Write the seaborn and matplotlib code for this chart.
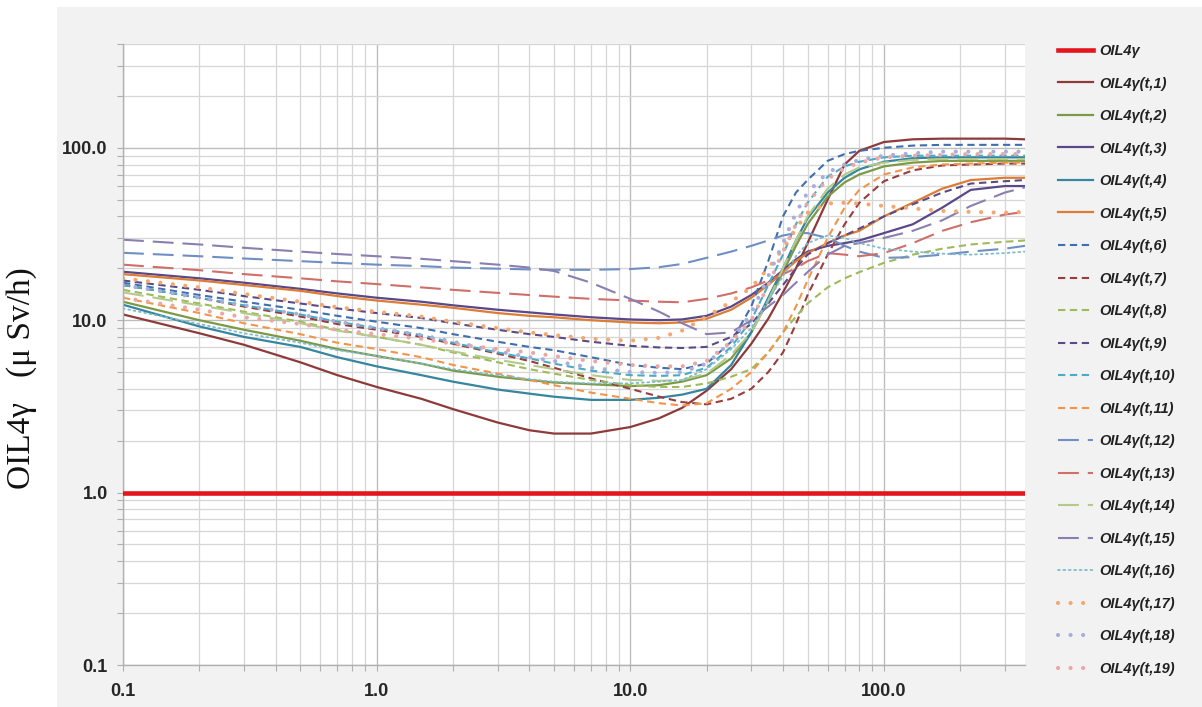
import numpy as np
import pandas as pd
import matplotlib
matplotlib.use("Agg")
import matplotlib.pyplot as plt
from matplotlib.patches import Rectangle
from matplotlib.ticker import LogLocator, NullFormatter
import seaborn as sns

# ---------------- data ----------------
x_hours = [0.1, 0.2, 0.3, 0.5, 0.7, 1, 1.5, 2, 3, 4, 5, 7, 10, 13, 16, 20, 25, 30, 35, 40,
           45, 50, 60, 70, 80, 100, 130, 170, 220, 300, 360]

oil4_x = [0.1, 360]
oil4_y = [1.0, 1.0]

t1 = [10.8, 8.4, 7.2, 5.7, 4.8, 4.1, 3.5, 3.05, 2.55, 2.3, 2.2, 2.2, 2.4, 2.7, 3.1, 3.9, 5.2, 7.3, 10.2, 14.5,
      20, 28, 50, 80, 96, 108, 112, 113, 113, 113, 112]
t2 = [12.8, 10.0, 8.8, 7.6, 6.8, 6.2, 5.6, 5.1, 4.7, 4.5, 4.35, 4.25, 4.15, 4.2, 4.4, 4.8, 6.0, 8.5, 13, 19,
      27, 36, 52, 63, 70, 78, 82, 84, 84, 84, 84]
t3 = [19.1, 17.5, 16.5, 15.2, 14.3, 13.5, 12.8, 12.2, 11.5, 11.1, 10.8, 10.4, 10.1, 10.0, 10.1, 10.6, 12.0, 14.0, 16.5, 19.5,
      22.5, 25, 27, 28, 29, 32, 36, 45, 57, 60, 60]
t4 = [12.3, 9.2, 8.0, 7.0, 6.1, 5.4, 4.8, 4.4, 3.96, 3.75, 3.6, 3.45, 3.45, 3.55, 3.7, 4.0, 5.5, 8.5, 13.5, 20,
      29, 39, 55, 67, 75, 83, 87, 88, 88, 88, 88]
t5 = [18.5, 17.0, 16.0, 14.8, 13.8, 13.0, 12.3, 11.8, 11.0, 10.6, 10.4, 10.0, 9.7, 9.6, 9.7, 10.2, 11.5, 13.5, 16, 19,
      22, 24.5, 28, 31, 33, 40, 48, 58, 65, 67, 67]
t6 = [16.5, 14.0, 12.8, 11.5, 10.6, 9.8, 9.0, 8.3, 7.5, 7.0, 6.7, 6.1, 5.5, 5.3, 5.2, 5.6, 7.5, 12, 22, 40,
      55, 65, 84, 92, 96, 100, 103, 104, 104, 104, 104]
t7 = [16.0, 13.5, 12.0, 10.5, 9.5, 8.8, 8.0, 7.3, 6.4, 5.8, 5.3, 4.6, 4.0, 3.6, 3.35, 3.25, 3.5, 4.0, 5.0, 6.5,
      9.5, 14, 24, 36, 48, 64, 74, 79, 80, 81, 81]
t8 = [15.0, 12.5, 11.2, 9.8, 8.8, 8.0, 7.2, 6.5, 5.7, 5.2, 4.9, 4.5, 4.2, 4.1, 4.1, 4.3, 4.7, 5.2, 6.5, 8.5,
      10.5, 12.5, 15.5, 17.5, 19, 21.5, 24, 26, 27.5, 28.5, 29]
t9 = [17.0, 15.0, 13.8, 12.5, 11.7, 11.0, 10.3, 9.6, 8.8, 8.3, 8.0, 7.5, 7.1, 6.95, 6.9, 7.0, 8.0, 9.5, 12.5, 16,
      20, 24, 28, 31, 34, 40, 47, 55, 62, 64, 65]
t10 = [16.0, 13.5, 12.2, 10.8, 9.8, 9.0, 8.2, 7.4, 6.5, 6.0, 5.6, 5.1, 4.8, 4.75, 4.8, 5.3, 7.0, 10, 16, 24,
       36, 48, 68, 78, 83, 88, 90, 90, 90, 90, 90]
t11 = [13.5, 11.0, 9.6, 8.3, 7.4, 6.8, 6.1, 5.5, 4.9, 4.5, 4.2, 3.8, 3.5, 3.3, 3.2, 3.3, 4.0, 5.0, 6.5, 8.5,
       12, 17, 30, 45, 57, 70, 77, 80, 81, 82, 82]
t12 = [24.6, 23.5, 22.8, 22.0, 21.5, 21.0, 20.6, 20.2, 19.9, 19.7, 19.6, 19.6, 19.8, 20.3, 21.2, 23, 25, 27, 29, 31,
       32, 32, 30, 27, 25, 23, 23.2, 24, 25, 26, 27]
t13 = [21.0, 19.5, 18.5, 17.5, 16.8, 16.2, 15.5, 15.0, 14.4, 14.0, 13.7, 13.3, 13.0, 12.8, 12.7, 13.3, 14.3, 15.5, 17, 18.5,
       20, 22, 24.5, 24, 23.5, 24.5, 28, 33, 37, 41, 42.5]
t14 = [14.5, 12.2, 11.0, 9.6, 8.7, 8.0, 7.2, 6.6, 5.9, 5.5, 5.2, 4.8, 4.5, 4.45, 4.5, 4.9, 6.3, 8.5, 13, 20,
       29, 40, 58, 70, 77, 82, 85, 86, 86, 86, 86]
t15 = [29.3, 27.5, 26.3, 25.0, 24.2, 23.5, 22.7, 22.0, 21.0, 20.2, 19.3, 16.5, 13.3, 11.2, 9.6, 8.3, 8.5, 10, 12, 14,
       16.5, 19, 24, 27, 28, 30, 33, 38, 46, 55, 59]
t16 = [11.7, 9.5, 8.4, 7.4, 6.7, 6.2, 5.6, 5.2, 4.8, 4.55, 4.4, 4.3, 4.3, 4.4, 4.5, 5.2, 6.8, 9, 13, 18,
       23.5, 28, 31, 30, 28, 26, 25, 24.3, 24, 24.5, 25]
t17 = [17.5, 15.5, 14.2, 12.8, 11.9, 11.2, 10.5, 9.8, 9.0, 8.5, 8.2, 7.8, 7.6, 7.9, 8.7, 10.5, 12.8, 15.5, 20, 26,
       34, 42, 47.5, 48, 47.5, 46, 44.5, 43, 42.5, 42, 42.5]
t18 = [16.0, 13.5, 12.2, 10.8, 9.8, 9.0, 8.2, 7.5, 6.6, 6.1, 5.8, 5.3, 5.0, 4.95, 5.0, 5.6, 7.5, 11, 18, 28,
       42, 55, 72, 80, 85, 90, 93, 95, 95, 95, 95]
t19 = [13.5, 11.5, 10.4, 9.5, 8.8, 8.3, 7.8, 7.3, 6.8, 6.5, 6.2, 5.8, 5.5, 5.4, 5.4, 5.8, 7.5, 10, 16, 25,
       36, 48, 66, 76, 82, 88, 90, 91, 92, 92, 92]

series_values = [t1, t2, t3, t4, t5, t6, t7, t8, t9, t10, t11, t12, t13, t14, t15, t16, t17, t18, t19]
series_labels = ["OIL4γ(t,%d)" % (i + 1) for i in range(19)]

x_tick_values = [0.1, 1, 10, 100]
x_tick_labels = ["0.1", "1.0", "10.0", "100.0"]
y_tick_values = [0.1, 1, 10, 100]
y_tick_labels = ["0.1", "1.0", "10.0", "100.0"]

# ---------------- styles ----------------
SOLID = "-"
SHORT = (0, (3.5, 2.2))
LONG = (0, (10, 4.3))
FINE = (0, (1, 2))
DOTS = (0, (0.01, 3))

styles = [
    ("#8E3A3A", SOLID, 1.6),
    ("#7C9A45", SOLID, 1.6),
    ("#5A4888", SOLID, 1.6),
    ("#35869E", SOLID, 1.6),
    ("#DD7C35", SOLID, 1.6),
    ("#3F6FAE", SHORT, 1.5),
    ("#9B3C3C", SHORT, 1.5),
    ("#9DBB5A", SHORT, 1.5),
    ("#5C4A86", SHORT, 1.5),
    ("#4BAAC4", SHORT, 1.5),
    ("#F2954A", SHORT, 1.5),
    ("#6F8FC4", LONG, 1.5),
    ("#D06E6A", LONG, 1.5),
    ("#B5C98A", LONG, 1.5),
    ("#8A7FB0", LONG, 1.5),
    ("#7DBBD0", FINE, 1.3),
    ("#F4A771", DOTS, 3.0),
    ("#A8AEDC", DOTS, 3.0),
    ("#EBA7A3", DOTS, 3.0),
]

W, H = 1202, 707
fig = plt.figure(figsize=(W / 100, H / 100), dpi=100, facecolor="white")
fig.patches.append(Rectangle((57 / W, 0), 1 - 57 / W, 1 - 7 / H, transform=fig.transFigure,
                             facecolor="#f2f2f2", edgecolor="none", zorder=-10))

ax = fig.add_axes([123 / W, 1 - 665 / H, (1025 - 123) / W, (665 - 44) / H])
ax.set_facecolor("white")
ax.set_xscale("log")
ax.set_yscale("log")

df_red = pd.DataFrame({"x": oil4_x, "y": oil4_y})
sns.lineplot(data=df_red, x="x", y="y", ax=ax, color="#E3161E", linewidth=3.3,
             label="OIL4γ", estimator=None, zorder=5)

for vals, lab, (col, ls, lw) in zip(series_values, series_labels, styles):
    d = pd.DataFrame({"x": x_hours, "y": vals})
    kw = dict(color=col, linewidth=lw, linestyle=ls, label=lab, estimator=None)
    if ls is DOTS or ls is FINE:
        kw["dash_capstyle"] = "round"
    sns.lineplot(data=d, x="x", y="y", ax=ax, **kw)

ax.set_xlim(0.1, 360)
ax.set_ylim(0.1, 400)

ax.set_xticks(x_tick_values)
ax.set_xticklabels(x_tick_labels)
ax.set_yticks(y_tick_values)
ax.set_yticklabels(y_tick_labels)
ax.xaxis.set_minor_locator(LogLocator(base=10, subs=np.arange(2, 10), numticks=20))
ax.yaxis.set_minor_locator(LogLocator(base=10, subs=np.arange(2, 10), numticks=20))
ax.xaxis.set_minor_formatter(NullFormatter())
ax.yaxis.set_minor_formatter(NullFormatter())

ax.grid(True, which="major", color="#bdbdbd", linewidth=1.0)
ax.grid(True, which="minor", color="#d6d6d6", linewidth=0.9)
ax.set_axisbelow(True)

ax.tick_params(which="both", length=4, width=0.8, color="#b0b0b0")
ax.tick_params(axis="y", which="major", pad=7, labelsize=13, labelcolor="#262626")
ax.tick_params(axis="x", which="major", pad=9, labelsize=13, labelcolor="#262626")
for lbl in ax.get_xticklabels() + ax.get_yticklabels():
    lbl.set_fontfamily("Liberation Sans")
    lbl.set_fontweight("bold")

for side in ["top", "right"]:
    ax.spines[side].set_visible(False)
for side in ["left", "bottom"]:
    ax.spines[side].set_color("#b0b0b0")
    ax.spines[side].set_linewidth(1.0)

ax.set_xlabel("")
ax.set_ylabel("")
if ax.get_legend() is not None:
    ax.get_legend().remove()

handles, labels = ax.get_legend_handles_labels()
leg = fig.legend(handles, labels, loc="upper left", bbox_to_anchor=(1058 / W, 1 - 44 / H),
                 frameon=False, borderpad=0, borderaxespad=0, handlelength=2.4,
                 handletextpad=0.4, labelspacing=1.27,
                 prop={"family": "Liberation Sans", "style": "italic", "weight": "bold", "size": 10.5})
for txt in leg.get_texts():
    txt.set_color("#222222")

fig.text(22 / W, 1 - 378 / H, "OIL4γ   (μ Sv/h)", rotation=90, ha="center", va="center",
         fontsize=24, family=["Liberation Serif", "DejaVu Serif"], color="#111111")

fig.savefig("out.png", dpi=100, facecolor=fig.get_facecolor())
